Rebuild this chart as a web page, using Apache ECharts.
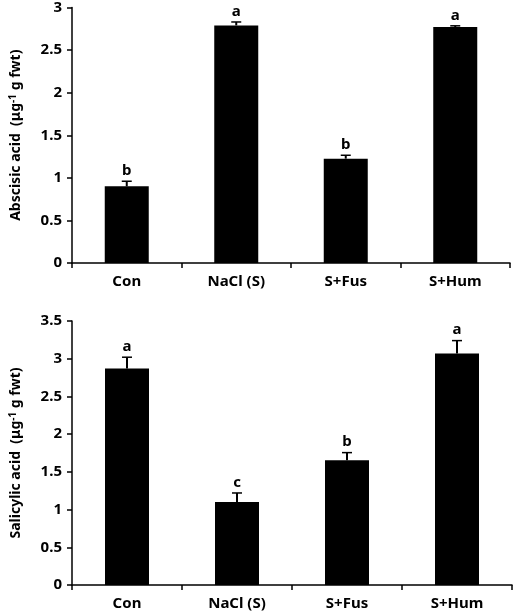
<!DOCTYPE html>
<html><head><meta charset="utf-8">
<script src="https://cdn.jsdelivr.net/npm/echarts@6/dist/echarts.min.js"></script>
<style>html,body{margin:0;padding:0;background:#fff}#c{width:520px;height:615px}</style>
</head><body><div id="c"></div>
<script>
const categories = ['Con', 'NaCl (S)', 'S+Fus', 'S+Hum'];
const abaValues = [0.90, 2.79, 1.225, 2.77];
const abaErrors = [0.06, 0.04, 0.04, 0.015];
const abaLetters = ['b', 'a', 'b', 'a'];
const saValues = [2.87, 1.10, 1.655, 3.07];
const saErrors = [0.15, 0.12, 0.10, 0.17];
const saLetters = ['a', 'c', 'b', 'a'];
const abaTicks = [0, 0.5, 1, 1.5, 2, 2.5, 3];
const saTicks = [0, 0.5, 1, 1.5, 2, 2.5, 3, 3.5];

const FONT = '"Noto Sans", "Open Sans", sans-serif';
const chart = echarts.init(document.getElementById('c'), null, {renderer: 'canvas'});

function errSeries(idx, values, errors, letters) {
  return {
    type: 'custom', xAxisIndex: idx, yAxisIndex: idx, z: 5,
    data: values.map((v, i) => [i, v, v + errors[i]]),
    renderItem: function (params, api) {
      const p0 = api.coord([api.value(0), api.value(1)]);
      const p1 = api.coord([api.value(0), api.value(2)]);
      const x = p0[0], y0 = p0[1], y1 = p1[1];
      const cap = 5;
      return {
        type: 'group',
        children: [
          {type: 'line', shape: {x1: x, y1: y0, x2: x, y2: y1}, style: {stroke: '#000', lineWidth: 2}},
          {type: 'line', shape: {x1: x - cap, y1: y1, x2: x + cap, y2: y1}, style: {stroke: '#000', lineWidth: 1.5}},
          {type: 'text', x: x, y: y1 - 3, style: {text: letters[params.dataIndex], textAlign: 'center', textVerticalAlign: 'bottom', font: 'bold 15px ' + FONT, fill: '#000'}}
        ]
      };
    }
  };
}

function xAx(idx) {
  return {
    type: 'category', gridIndex: idx, data: categories,
    axisLine: {lineStyle: {color: '#000', width: 1.5}},
    axisTick: {show: true, length: 5, lineStyle: {color: '#000', width: 1.5}},
    axisLabel: {color: '#000', fontFamily: FONT, fontWeight: 'bold', fontSize: 15, margin: 11},
    boundaryGap: true
  };
}
function yAx(idx, ticks, name, gap) {
  return {
    type: 'value', gridIndex: idx, min: ticks[0], max: ticks[ticks.length - 1], interval: 0.5,
    name: name, nameLocation: 'middle', nameGap: gap, nameRotate: 90,
    nameTextStyle: {color: '#000', fontFamily: FONT, fontWeight: 'bold', fontSize: 14,
      rich: {sup: {fontSize: 10, fontWeight: 'bold', fontFamily: FONT, verticalAlign: 'top', padding: [0, 0, 6, 0]}}},
    axisLine: {show: true, lineStyle: {color: '#000', width: 1.5}},
    axisTick: {show: true, length: 5, lineStyle: {color: '#000', width: 1.5}},
    axisLabel: {color: '#000', fontFamily: FONT, fontWeight: 'bold', fontSize: 15, margin: 10,
      formatter: v => String(v)},
    splitLine: {show: false}
  };
}

chart.setOption({
  animation: false,
  backgroundColor: '#fff',
  grid: [
    {left: 62, top: 6, right: 10, bottom: 352},
    {left: 62, top: 321, right: 8, bottom: 30}
  ],
  xAxis: [xAx(0), xAx(1)],
  yAxis: [
    yAx(0, abaTicks, 'Abscisic acid  (μg{sup|-1} g fwt)', 48),
    yAx(1, saTicks, 'Salicylic acid  (μg{sup|-1} g fwt)', 48)
  ],
  series: [
    {type: 'bar', xAxisIndex: 0, yAxisIndex: 0, data: abaValues, barWidth: 44, itemStyle: {color: '#000'}},
    errSeries(0, abaValues, abaErrors, abaLetters),
    {type: 'bar', xAxisIndex: 1, yAxisIndex: 1, data: saValues, barWidth: 44, itemStyle: {color: '#000'}},
    errSeries(1, saValues, saErrors, saLetters)
  ]
});
</script></body></html>
